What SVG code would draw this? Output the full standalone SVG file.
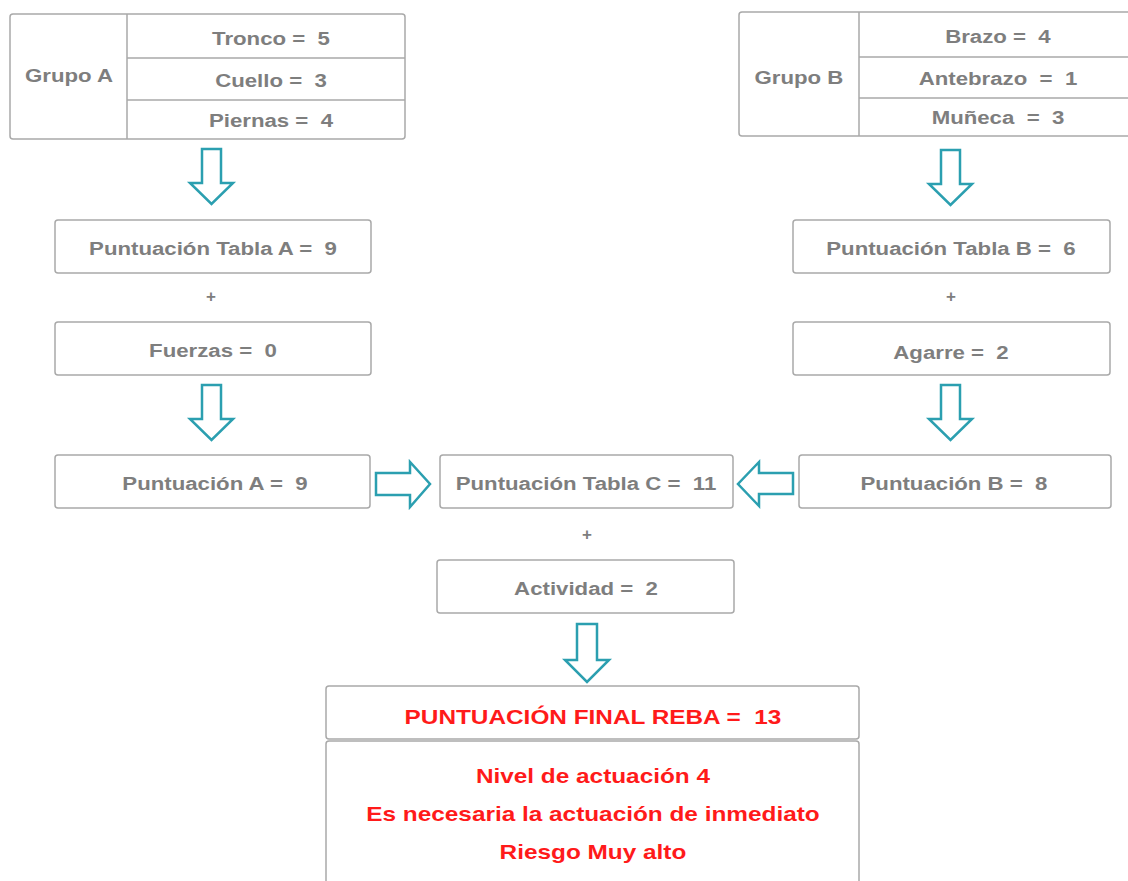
<svg xmlns="http://www.w3.org/2000/svg" width="1128" height="881" viewBox="0 0 1128 881">
<style>
.box{fill:#fff;stroke:#a9a9a9;stroke-width:1.5}
.ln{stroke:#a9a9a9;stroke-width:1.5}
.t{font-family:"Liberation Sans",Arial,sans-serif;font-weight:bold;font-size:19px;fill:#7e7e7e;text-anchor:middle;transform-box:fill-box;transform-origin:center;transform:scaleX(1.17)}
.p{font-family:"Liberation Sans",Arial,sans-serif;font-weight:bold;font-size:17px;fill:#7e7e7e;text-anchor:middle}
.r{font-family:"Liberation Sans",Arial,sans-serif;font-weight:bold;font-size:21px;fill:#ff1a1a;text-anchor:middle;transform-box:fill-box;transform-origin:center;transform:scaleX(1.16)}
.ar{fill:#fff;stroke:#2b9fb0;stroke-width:2.5;stroke-linejoin:miter}
</style>
<rect width="1128" height="881" fill="#fff"/>
<g id="grupoA">
<rect class="box" x="10" y="14" width="395" height="125" rx="3"/>
<line class="ln" x1="127" y1="14" x2="127" y2="139"/>
<line class="ln" x1="127" y1="58" x2="405" y2="58"/>
<line class="ln" x1="127" y1="100" x2="405" y2="100"/>
<text class="t" x="69" y="82">Grupo A</text>
<text class="t" x="271" y="45" xml:space="preserve">Tronco =  5</text>
<text class="t" x="271" y="87" xml:space="preserve">Cuello =  3</text>
<text class="t" x="271" y="127" xml:space="preserve">Piernas =  4</text>
</g>
<g id="grupoB">
<rect class="box" x="739" y="12" width="400" height="124" rx="3"/>
<line class="ln" x1="859" y1="12" x2="859" y2="136"/>
<line class="ln" x1="859" y1="57" x2="1128" y2="57"/>
<line class="ln" x1="859" y1="98" x2="1128" y2="98"/>
<text class="t" x="799" y="84">Grupo B</text>
<text class="t" x="998" y="43" xml:space="preserve">Brazo =  4</text>
<text class="t" x="998" y="85" xml:space="preserve">Antebrazo  =  1</text>
<text class="t" x="998" y="124" xml:space="preserve">Muñeca  =  3</text>
</g>
<g id="tablaA">
<rect class="box" x="55" y="220" width="316" height="53" rx="3"/>
<text class="t" x="213" y="255" xml:space="preserve">Puntuación Tabla A =  9</text>
</g>
<text class="p" x="211" y="302">+</text>
<g id="fuerzas">
<rect class="box" x="55" y="322" width="316" height="53" rx="3"/>
<text class="t" x="213" y="357" xml:space="preserve">Fuerzas =  0</text>
</g>
<g id="puntA">
<rect class="box" x="55" y="455" width="315" height="53" rx="3"/>
<text class="t" x="215" y="490" xml:space="preserve">Puntuación A =  9</text>
</g>
<g id="tablaB">
<rect class="box" x="793" y="220" width="317" height="53" rx="3"/>
<text class="t" x="951" y="255" xml:space="preserve">Puntuación Tabla B =  6</text>
</g>
<text class="p" x="951" y="302">+</text>
<g id="agarre">
<rect class="box" x="793" y="322" width="317" height="53" rx="3"/>
<text class="t" x="951" y="359" xml:space="preserve">Agarre =  2</text>
</g>
<g id="puntB">
<rect class="box" x="799" y="455" width="312" height="53" rx="3"/>
<text class="t" x="954" y="490" xml:space="preserve">Puntuación B =  8</text>
</g>
<g id="tablaC">
<rect class="box" x="440" y="455" width="293" height="53" rx="3"/>
<text class="t" x="586" y="490" xml:space="preserve">Puntuación Tabla C =  11</text>
</g>
<text class="p" x="587" y="540">+</text>
<g id="actividad">
<rect class="box" x="437" y="560" width="297" height="53" rx="3"/>
<text class="t" x="586" y="595" xml:space="preserve">Actividad =  2</text>
</g>
<g id="final">
<rect class="box" x="326" y="686" width="533" height="53" rx="3"/>
<rect class="box" x="326" y="741" width="533" height="150" rx="3"/>
<text class="r" x="593" y="724" xml:space="preserve">PUNTUACIÓN FINAL REBA =  13</text>
<text class="r" x="593" y="783">Nivel de actuación 4</text>
<text class="r" x="593" y="821">Es necesaria la actuación de inmediato</text>
<text class="r" x="593" y="859">Riesgo Muy alto</text>
</g>
<g id="connectors">
<path class="ar" d="M202,149 H221 V183 H233 L211.5,204 L190,183 H202 Z"/>
<path class="ar" d="M202,385 H221 V419 H233 L211.5,440 L190,419 H202 Z"/>
<path class="ar" d="M941,150 H960 V184 H972 L950.5,205 L929,184 H941 Z"/>
<path class="ar" d="M941,385 H960 V419 H972 L950.5,440 L929,419 H941 Z"/>
<path class="ar" d="M577,624 H597 V660 H609 L587,682 L565,660 H577 Z"/>
<path class="ar" d="M376,473 V495 H410 V507 L430,484 L410,462 V473 Z"/>
<path class="ar" d="M793,473 V494 H759 V506 L738,484 L759,462 V473 Z"/>
</g>
</svg>
